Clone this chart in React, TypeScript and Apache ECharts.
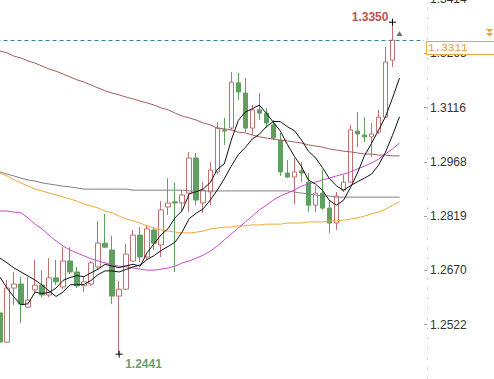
import React, { useEffect, useRef } from 'react';
import * as echarts from 'echarts';

// ---- candles (open, close, low, high) ----
const opens = [1.2554,1.2474,1.2622,1.2633,1.2570,1.2617,1.2630,1.2603,1.2650,1.2625,1.2696,1.2666,1.2628,1.2633,1.2680,1.2745,1.2726,1.2600,1.2619,1.2696,1.2767,1.2707,1.2781,1.2740,1.2844,1.2858,1.2855,1.2882,1.2978,1.2855,1.2885,1.2940,1.3055,1.3060,1.3184,1.3156,1.3060,1.3110,1.3101,1.3069,1.3027,1.2937,1.2926,1.2943,1.2912,1.2849,1.2882,1.2841,1.2800,1.2890,1.2912,1.3052,1.3041,1.3036,1.3049,1.3090,1.3246];
const closes = [1.2474,1.2622,1.2633,1.2578,1.2589,1.2630,1.2603,1.2650,1.2639,1.2696,1.2666,1.2628,1.2639,1.2691,1.2745,1.2734,1.2600,1.2619,1.2715,1.2767,1.2707,1.2784,1.2745,1.2836,1.2855,1.2855,1.2877,1.2978,1.2863,1.2890,1.2945,1.3060,1.3052,1.3186,1.3159,1.3060,1.3110,1.3101,1.3074,1.3033,1.2940,1.2926,1.2940,1.2937,1.2849,1.2882,1.2841,1.2800,1.2874,1.2912,1.3055,1.3044,1.3036,1.3044,1.3090,1.3241,1.3301];
const lows = [1.2472,1.2472,1.2576,1.2526,1.2567,1.2611,1.2597,1.2597,1.2630,1.2619,1.2660,1.2622,1.2611,1.2628,1.2674,1.2732,1.2578,1.2441,1.2617,1.2693,1.2693,1.2699,1.2726,1.2707,1.2822,1.2666,1.2830,1.2830,1.2849,1.2828,1.2849,1.2932,1.3014,1.3055,1.3137,1.3049,1.3041,1.3082,1.3060,1.3027,1.2929,1.2923,1.2852,1.2912,1.2830,1.2830,1.2836,1.2773,1.2781,1.2885,1.2910,1.3008,1.3022,1.2981,1.3044,1.3088,1.3227];
const highs = [1.2630,1.2644,1.2666,1.2652,1.2652,1.2699,1.2671,1.2704,1.2699,1.2734,1.2734,1.2680,1.2652,1.2696,1.2806,1.2825,1.2765,1.2641,1.2743,1.2781,1.2789,1.2795,1.2789,1.2860,1.2923,1.2910,1.2890,1.2995,1.2992,1.2912,1.2967,1.3077,1.3088,1.3214,1.3211,1.3197,1.3123,1.3156,1.3115,1.3082,1.3047,1.2973,1.2978,1.2967,1.2937,1.2901,1.2945,1.2863,1.2885,1.2932,1.3069,1.3104,1.3090,1.3074,1.3110,1.3282,1.3350];

const lastPrice = 1.3311;

// ---- moving averages (58 points, last one at the current bar) ----
const ma5 = [1.2652,1.2622,1.2597,1.2576,1.2579,1.2611,1.2607,1.2610,1.2622,1.2643,1.2651,1.2656,1.2653,1.2664,1.2674,1.2687,1.2682,1.2678,1.2683,1.2687,1.2682,1.2719,1.2744,1.2768,1.2785,1.2815,1.2834,1.2880,1.2886,1.2893,1.2911,1.2947,1.2962,1.3027,1.3081,1.3104,1.3113,1.3123,1.3101,1.3076,1.3052,1.3015,1.2983,1.2955,1.2918,1.2907,1.2890,1.2862,1.2849,1.2862,1.2897,1.2937,1.2984,1.3018,1.3054,1.3091,1.3142,1.3197];
const ma10 = [1.2704,1.2691,1.2677,1.2666,1.2655,1.2644,1.2630,1.2614,1.2599,1.2611,1.2631,1.2631,1.2632,1.2643,1.2659,1.2669,1.2669,1.2666,1.2673,1.2680,1.2685,1.2700,1.2711,1.2725,1.2736,1.2748,1.2776,1.2812,1.2827,1.2839,1.2863,1.2890,1.2921,1.2956,1.2987,1.3007,1.3030,1.3043,1.3064,1.3078,1.3078,1.3064,1.3053,1.3028,1.2997,1.2979,1.2952,1.2922,1.2902,1.2890,1.2902,1.2913,1.2923,1.2934,1.2958,1.2994,1.3040,1.3091];
const ma20 = [1.2833,1.2833,1.2830,1.2828,1.2814,1.2797,1.2784,1.2767,1.2751,1.2737,1.2726,1.2718,1.2710,1.2702,1.2696,1.2691,1.2685,1.2682,1.2680,1.2677,1.2674,1.2671,1.2671,1.2674,1.2677,1.2682,1.2691,1.2696,1.2704,1.2712,1.2723,1.2737,1.2754,1.2770,1.2786,1.2803,1.2819,1.2836,1.2849,1.2863,1.2874,1.2882,1.2890,1.2901,1.2907,1.2912,1.2918,1.2923,1.2929,1.2934,1.2940,1.2948,1.2956,1.2964,1.2975,1.2989,1.3003,1.3019];
const ma60 = [1.2937,1.2929,1.2918,1.2910,1.2901,1.2893,1.2888,1.2882,1.2877,1.2871,1.2866,1.2860,1.2852,1.2847,1.2841,1.2833,1.2828,1.2819,1.2811,1.2806,1.2800,1.2792,1.2786,1.2781,1.2778,1.2775,1.2773,1.2773,1.2775,1.2778,1.2784,1.2786,1.2789,1.2789,1.2792,1.2792,1.2795,1.2795,1.2797,1.2797,1.2797,1.2800,1.2800,1.2800,1.2803,1.2803,1.2803,1.2806,1.2806,1.2808,1.2811,1.2814,1.2819,1.2825,1.2830,1.2838,1.2849,1.2858];
const ma100 = [1.2940,1.2934,1.2929,1.2923,1.2918,1.2915,1.2910,1.2907,1.2904,1.2901,1.2899,1.2896,1.2893,1.2893,1.2893,1.2893,1.2893,1.2893,1.2893,1.2890,1.2890,1.2890,1.2890,1.2890,1.2890,1.2890,1.2890,1.2888,1.2888,1.2888,1.2888,1.2888,1.2888,1.2888,1.2888,1.2888,1.2888,1.2888,1.2888,1.2888,1.2888,1.2888,1.2885,1.2882,1.2880,1.2877,1.2874,1.2874,1.2871,1.2871,1.2871,1.2871,1.2871,1.2871,1.2871,1.2871,1.2871,1.2871];
const ma200 = [1.3271,1.3266,1.3257,1.3252,1.3244,1.3238,1.3230,1.3222,1.3216,1.3208,1.3200,1.3192,1.3186,1.3178,1.3170,1.3162,1.3156,1.3151,1.3145,1.3140,1.3134,1.3129,1.3123,1.3115,1.3110,1.3101,1.3093,1.3088,1.3082,1.3074,1.3069,1.3060,1.3058,1.3055,1.3049,1.3047,1.3041,1.3036,1.3033,1.3030,1.3027,1.3025,1.3022,1.3019,1.3014,1.3011,1.3008,1.3003,1.3000,1.2997,1.2995,1.2992,1.2989,1.2989,1.2986,1.2986,1.2984,1.2984];

// ---- y axis ticks ----
const AXIS_MIN = 1.237294;
const AXIS_STEP = 0.014866;
const AXIS_STEPS = 7;
const SLOTS = 61;

export default function App() {
  const ref = useRef<HTMLDivElement>(null);

  useEffect(() => {
    const chart = echarts.init(ref.current as HTMLDivElement, null, { renderer: 'svg' });
    const categories = Array.from({ length: SLOTS }, (_, i) => String(i));
    const candles = opens.map((o, i) => [o, closes[i], lows[i], highs[i]]);
    const lineSeries = (name: string, data: number[], color: string) => ({
      name,
      type: 'line',
      data,
      symbol: 'none',
      silent: true,
      lineStyle: { color, width: 1 },
      z: 3,
    });

    chart.setOption({
      animation: false,
      backgroundColor: '#ffffff',
      grid: {
        left: -3.5,
        right: 70,
        top: -1,
        bottom: 0,
        containLabel: false,
        outerBoundsMode: 'none',
      },
      xAxis: {
        type: 'category',
        data: categories,
        boundaryGap: true,
        show: false,
      },
      yAxis: {
        type: 'value',
        position: 'right',
        offset: 3,
        min: AXIS_MIN,
        max: AXIS_MIN + AXIS_STEPS * AXIS_STEP,
        interval: AXIS_STEP,
        axisLine: { show: true, lineStyle: { color: '#c4c4c4', type: [1, 9], width: 1 } },
        axisTick: { show: true, inside: true, length: 3, lineStyle: { color: '#9a9a9a' } },
        splitLine: { show: false },
        axisLabel: {
          color: '#333333',
          fontSize: 12,
          fontFamily: 'Liberation Sans, Arial, sans-serif',
          margin: 3,
          showMinLabel: false,
          showMaxLabel: true,
          formatter: (v: number) => v.toFixed(4),
        },
      },
      graphic: [
        {
          type: 'polygon',
          shape: { points: [[486, 29], [493, 29], [489.5, 32.5]] },
          style: { fill: '#eea13a' },
          z: 10,
        },
        {
          type: 'polygon',
          shape: { points: [[486, 33], [493, 33], [489.5, 36.5]] },
          style: { fill: '#eea13a' },
          z: 10,
        },
      ],
      series: [
        {
          name: 'K',
          type: 'candlestick',
          data: candles,
          barWidth: 5,
          z: 2,
          itemStyle: {
            color: '#ffffff',
            borderColor: '#c07070',
            color0: '#5f9f5f',
            borderColor0: '#5f9f5f',
            borderWidth: 1,
          },
          markLine: {
            silent: true,
            symbol: ['none', 'none'],
            lineStyle: { color: '#3f7fa6', type: [4, 3], width: 1 },
            label: {
              show: true,
              position: 'end',
              distance: 3,
              offset: [0, 7.5],
              formatter: () => lastPrice.toFixed(4),
              color: '#e39b3a',
              fontFamily: 'Liberation Mono, Courier New, monospace',
              fontSize: 11,
              lineHeight: 11,
              backgroundColor: '#ffffff',
              borderColor: '#eea64a',
              borderWidth: 1,
              padding: [1, 40, 0, 1],
            },
            data: [{ yAxis: lastPrice }],
          },
          markPoint: {
            silent: true,
            symbol: 'path://M0,4L8,4M4,0L4,8',
            symbolSize: 7,
            itemStyle: { color: 'transparent', borderColor: '#000000', borderWidth: 1 },
            data: [
              {
                type: 'max',
                valueDim: 'highest',
                label: {
                  show: true,
                  position: 'left',
                  distance: 0,
                  offset: [0, -5],
                  color: '#b95450',
                  fontWeight: 'bold',
                  fontSize: 12,
                  fontFamily: 'Liberation Sans, Arial, sans-serif',
                  formatter: (p: any) => Number(p.value).toFixed(4),
                },
              },
              {
                type: 'min',
                valueDim: 'lowest',
                label: {
                  show: true,
                  position: 'right',
                  distance: 2,
                  offset: [0, 10],
                  color: '#6e9e6e',
                  fontWeight: 'bold',
                  fontSize: 12,
                  fontFamily: 'Liberation Sans, Arial, sans-serif',
                  formatter: (p: any) => Number(p.value).toFixed(4),
                },
              },
              {
                coord: [categories[opens.length], lastPrice],
                symbol: 'triangle',
                symbolSize: [6, 5],
                symbolOffset: [0, -3],
                itemStyle: { color: '#6f6f6f', borderWidth: 0 },
                label: { show: false },
              },
            ],
          },
        },
        lineSeries('MA200', ma200, '#a65d5d'),
        lineSeries('MA100', ma100, '#808080'),
        lineSeries('MA60', ma60, '#f0a83c'),
        lineSeries('MA20', ma20, '#cc48cc'),
        lineSeries('MA10', ma10, '#111111'),
        lineSeries('MA5', ma5, '#111111'),
      ],
    });

    return () => chart.dispose();
  }, []);

  return (
    <div
      ref={ref}
      style={{ position: 'fixed', left: 0, top: 0, width: 494, height: 379, background: '#fff' }}
    />
  );
}
